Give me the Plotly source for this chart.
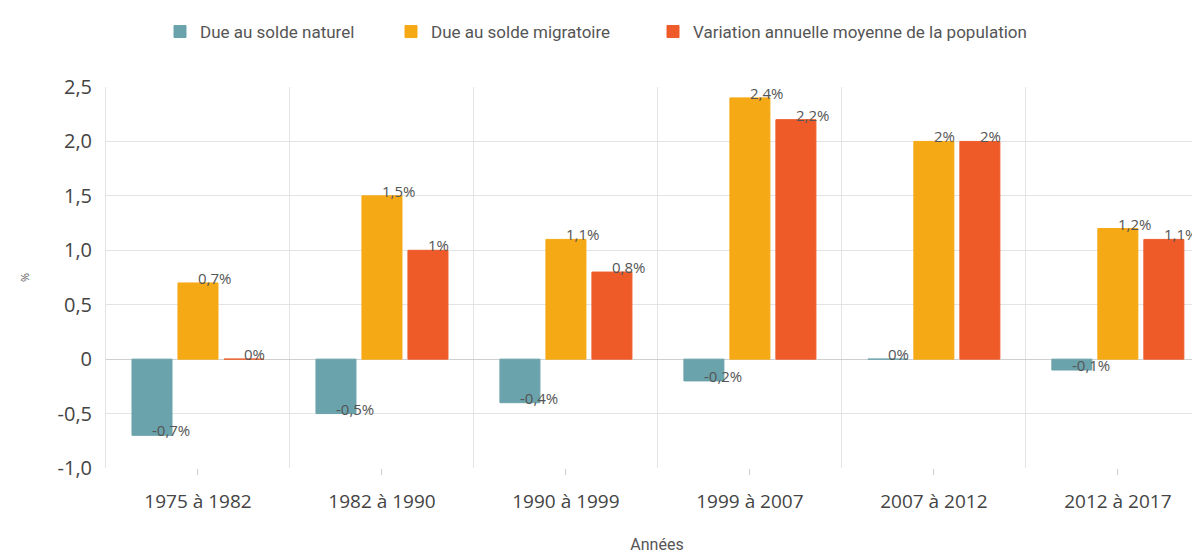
import plotly.graph_objects as go

# données
periodes = ['1975 à 1982', '1982 à 1990', '1990 à 1999', '1999 à 2007', '2007 à 2012', '2012 à 2017']
solde_naturel = [-0.7, -0.5, -0.4, -0.2, 0.0, -0.1]
solde_migratoire = [0.7, 1.5, 1.1, 2.4, 2.0, 1.2]
variation_annuelle = [0.0, 1.0, 0.8, 2.2, 2.0, 1.1]

series_noms = ['Due au solde naturel', 'Due au solde migratoire',
               'Variation annuelle moyenne de la population']
y_ticks = [-1.0, -0.5, 0, 0.5, 1.0, 1.5, 2.0, 2.5]
y_ticktext = ['-1,0', '-0,5', '0', '0,5', '1,0', '1,5', '2,0', '2,5']

COULEURS = ['#6BA3AC', '#F5A914', '#EE5B29']
POLICE = 'Open Sans'
GRIS = '#e3e3e3'
BARGAP = 0.25
X_RANGE = [-0.5, 5.49]
LEGENDES = ['legend', 'legend2', 'legend3']
LEGENDE_X = [152, 383, 645]


def etiquette(v):
    s = f'{v:g}'.replace('.', ',')
    return s + '%'


fig = go.Figure()
series = [solde_naturel, solde_migratoire, variation_annuelle]

for nom, vals, coul, leg in zip(series_noms, series, COULEURS, LEGENDES):
    fig.add_trace(go.Bar(
        name=nom,
        x=periodes,
        y=vals,
        marker=dict(color=coul, line=dict(color=coul, width=1)),
        hoverinfo='skip',
        legend=leg,
    ))

# étiquettes des valeurs : bord gauche au centre de la barre
slot = (1 - BARGAP) / 3
annotations = []
for k, vals in enumerate(series):
    for i, v in enumerate(vals):
        annotations.append(dict(
            x=i + (k - 1) * slot,
            y=v,
            xref='x',
            yref='y',
            text=etiquette(v),
            showarrow=False,
            xanchor='left',
            yanchor='middle',
            xshift=-2,
            yshift=5,
            font=dict(family=POLICE, size=15, color='#555'),
        ))

# une légende par série, placée à la main
legendes = {}
for leg, lx in zip(LEGENDES, LEGENDE_X):
    legendes[leg] = dict(
        orientation='h',
        xref='container',
        yref='container',
        x=lx / 1200,
        xanchor='left',
        y=1 - 24 / 557,
        yanchor='middle',
        font=dict(family='Roboto', size=17, color='#555'),
        itemwidth=30,
    )

fig.update_layout(
    width=1200,
    height=557,
    barmode='group',
    bargap=BARGAP,
    bargroupgap=0.13,
    plot_bgcolor='white',
    paper_bgcolor='white',
    font=dict(family=POLICE, color='#444'),
    margin=dict(l=98, r=0, t=79, b=97),
    annotations=annotations,
    xaxis=dict(
        categoryorder='array',
        categoryarray=periodes,
        range=X_RANGE,
        showgrid=False,
        ticks='outside',
        ticklen=6,
        tickcolor='#ccc',
        ticklabelstandoff=10,
        tickfont=dict(family=POLICE, size=19, color='#444'),
        title=dict(text='Années', standoff=26,
                   font=dict(family='Roboto', size=16, color='#555')),
        zeroline=False,
    ),
    xaxis2=dict(
        overlaying='x',
        type='category',
        categoryarray=periodes,
        range=X_RANGE,
        tickson='boundaries',
        showgrid=True,
        gridcolor=GRIS,
        showticklabels=False,
        ticks='',
        layer='below traces',
    ),
    yaxis=dict(
        range=[-1.0, 2.5],
        tickvals=y_ticks,
        ticktext=y_ticktext,
        showgrid=True,
        gridcolor=GRIS,
        zeroline=True,
        zerolinecolor='#cfcfcf',
        zerolinewidth=1,
        showline=True,
        linecolor=GRIS,
        ticklabelstandoff=9,
        tickfont=dict(family=POLICE, size=20, color='#444'),
        title=dict(text='%', standoff=25, font=dict(family=POLICE, size=11, color='#555')),
    ),
    **legendes,
)

# trace invisible pour activer l'axe x2 (grille verticale aux frontières)
fig.add_trace(go.Scatter(x=periodes, y=[None] * len(periodes), xaxis='x2',
                         showlegend=False, hoverinfo='skip'))

fig.write_html('out.html')
